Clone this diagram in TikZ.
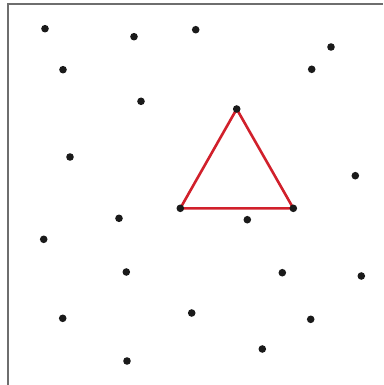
\documentclass[tikz,border=0pt]{standalone}
\usepackage{xcolor}
\usepackage{tikz}
\usetikzlibrary{backgrounds}
\definecolor{tri}{HTML}{D1202B}
\definecolor{frame}{HTML}{6E6E6E}
\definecolor{ink}{HTML}{1A1A1A}

\begin{document}
\begin{tikzpicture}[
  x=1pt, y=-1pt,
  dot/.style={circle, fill=ink, inner sep=0pt, minimum size=7.6pt},
  edge/.style={tri, line width=2.6pt},
  border/.style={frame, line width=1.3pt}
]
\useasboundingbox (0,0) rectangle (383,385);
\draw[border] (8,385) -- (8,4) -- (383,4);

\node[dot] (p1)  at (45,28.7)    {};
\node[dot] (p2)  at (134,36.7)   {};
\node[dot] (p3)  at (195.7,29.7) {};
\node[dot] (p4)  at (331,47)     {};
\node[dot] (p5)  at (63,69.7)    {};
\node[dot] (p6)  at (311.7,69.3) {};
\node[dot] (p7)  at (141,101.3)  {};
\node[dot] (top) at (236.7,109)  {};
\node[dot] (p9)  at (70,157)     {};
\node[dot] (p10) at (355.3,175.7) {};
\node[dot] (lft) at (180.3,208.3) {};
\node[dot] (rgt) at (293.3,208.3) {};
\node[dot] (p13) at (119,218.3)  {};
\node[dot] (p14) at (247.3,219.7) {};
\node[dot] (p15) at (43.7,239.3) {};
\node[dot] (p16) at (126.3,272)  {};
\node[dot] (p17) at (282.3,272.7) {};
\node[dot] (p18) at (361.3,276)  {};
\node[dot] (p19) at (62.7,318.3) {};
\node[dot] (p20) at (191.7,313)  {};
\node[dot] (p21) at (310.7,319.3) {};
\node[dot] (p22) at (262.3,349)  {};
\node[dot] (p23) at (127,361)    {};

\begin{scope}[on background layer]
\draw[edge] (top.center) -- (lft.center) -- (rgt.center) -- cycle;
\end{scope}
\end{tikzpicture}
\end{document}
